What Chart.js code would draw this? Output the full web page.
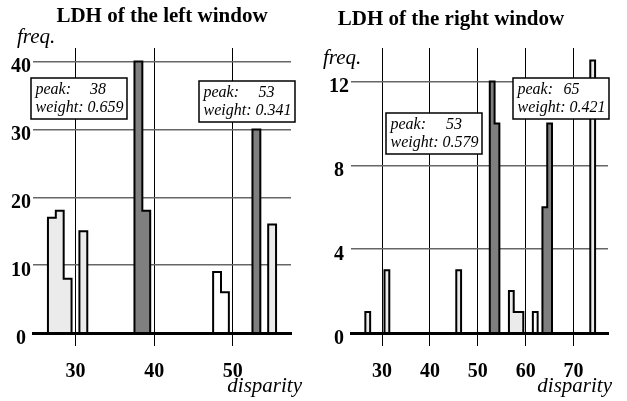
<!DOCTYPE html>
<html>
<head>
<meta charset="utf-8">
<script src="https://cdn.jsdelivr.net/npm/chart.js@4.4.1/dist/chart.umd.min.js"></script>
<style>
  html, body { margin: 0; padding: 0; background: #fff; }
  body { width: 627px; height: 401px; position: relative; overflow: hidden; }
  .panel { position: absolute; top: 0; height: 401px; }
</style>
</head>
<body>
<div class="panel" style="left:0;width:320px"><canvas id="left"></canvas></div>
<div class="panel" style="left:286px;width:330px"><canvas id="right"></canvas></div>
<script>
// histogram bins (disparity) and their frequencies
const leftDisparity = [27, 28, 29, 31, 38, 39, 48, 49, 53, 55];
const leftFreq      = [17, 18,  8, 15, 40, 18,  9,  6, 30, 16];
const leftShade     = ['light', 'light', 'light', 'light', 'dark', 'dark', 'white', 'white', 'dark', 'light'];
const leftXTicks = [30, 40, 50];
const leftYTicks = [0, 10, 20, 30, 40];
const leftPeaks = [38, 53];
const leftWeights = [0.659, 0.341];

const rightDisparity = [27, 31, 46, 53, 54, 57, 58, 59, 62, 64, 65, 74];
const rightFreq      = [ 1,  3,  3, 12, 10,  2,  1,  1,  1,  6, 10, 13];
const rightShade     = ['light', 'light', 'light', 'dark', 'dark', 'light', 'light', 'light', 'white', 'dark', 'dark', 'light'];
const rightXTicks = [30, 40, 50, 60, 70];
const rightYTicks = [0, 4, 8, 12];
const rightPeaks = [53, 65];
const rightWeights = [0.579, 0.421];

const shades = { light: '#ebebeb', dark: '#7f7f7f', white: '#ffffff' };
const SERIF = '"Liberation Serif", "Times New Roman", serif';

// neighbouring bins with the same shade are one stepped outline
function histogramDatasets(xs, ys, shade) {
    const runs = [];
    xs.forEach((x, i) => {
        const last = runs[runs.length - 1];
        if (last && x - last.xs[last.xs.length - 1] === 1 && last.shade === shade[i]) {
            last.xs.push(x);
            last.ys.push(ys[i]);
        } else {
            runs.push({ shade: shade[i], xs: [x], ys: [ys[i]] });
        }
    });
    return runs.map(r => ({
        data: [{ x: r.xs[0] - 0.5, y: 0 }]
            .concat(r.xs.map((x, j) => ({ x: x - 0.5, y: r.ys[j] })))
            .concat([{ x: r.xs[r.xs.length - 1] + 0.5, y: 0 }]),
        stepped: 'before',
        fill: 'origin',
        backgroundColor: shades[r.shade],
        borderColor: '#000',
        borderWidth: 2,
        borderJoinStyle: 'miter',
        pointRadius: 0,
        tension: 0
    }));
}

// axis captions and the peak / weight boxes
const captions = {
    id: 'captions',
    afterDraw(chart, args, o) {
        const ctx = chart.ctx;
        ctx.save();
        ctx.fillStyle = '#000';
        ctx.textBaseline = 'alphabetic';
        ctx.font = 'italic 21px ' + SERIF;
        ctx.textAlign = 'left';
        ctx.fillText('freq.', o.freq[0], o.freq[1]);
        ctx.textAlign = 'right';
        ctx.fillText('disparity', o.disparity[0], o.disparity[1]);

        ctx.font = 'italic 16px ' + SERIF;
        ctx.textAlign = 'left';
        o.boxes.forEach((b, i) => {
            const wText = 'weight: ' + o.weights[i].toFixed(3);
            const w = ctx.measureText(wText).width + 8;
            ctx.fillStyle = '#fff';
            ctx.fillRect(b.x, b.y, w, 41);
            ctx.strokeStyle = '#000';
            ctx.lineWidth = 1.5;
            ctx.strokeRect(b.x, b.y, w, 41);
            ctx.fillStyle = '#000';
            ctx.fillText('peak:', b.x + 4.5, b.y + 16);
            ctx.fillText(String(o.peaks[i]), b.x + b.valueX, b.y + 16);
            ctx.fillText(wText, b.x + 4.5, b.y + 34);
        });
        ctx.restore();
    }
};

function makeChart(id, c) {
    return new Chart(document.getElementById(id), {
        type: 'line',
        data: { datasets: histogramDatasets(c.xs, c.ys, c.shade) },
        options: {
            responsive: true,
            maintainAspectRatio: false,
            animation: false,
            layout: { padding: { left: c.padLeft, right: c.padRight } },
            plugins: {
                legend: { display: false },
                tooltip: { enabled: false },
                title: {
                    display: true,
                    text: c.title,
                    fullSize: c.titleFull,
                    color: '#000',
                    font: { family: SERIF, size: 21, weight: 'bold', lineHeight: 1 },
                    padding: { top: c.titleTop, bottom: 27 - c.titleTop }
                },
                captions: c.captions
            },
            scales: {
                x: {
                    type: 'linear',
                    min: c.xMin,
                    max: c.xMax,
                    afterBuildTicks: axis => { axis.ticks = c.xTicks.map(v => ({ value: v })); },
                    afterFit: s => { s.height = 68; },
                    grid: { color: '#000', lineWidth: 1, tickLength: 13 },
                    border: { display: true, color: '#000', width: 3, z: 1 },
                    ticks: {
                        color: '#000',
                        font: { family: SERIF, size: 20, weight: 'bold' },
                        padding: 14,
                        maxRotation: 0
                    }
                },
                y: {
                    min: 0,
                    max: c.yMax,
                    afterBuildTicks: axis => { axis.ticks = c.yTicks.map(v => ({ value: v })); },
                    afterFit: s => { s.width = c.yWidth; },
                    grid: {
                        color: ctx => ctx.tick && ctx.tick.value === 0 ? '#000' : '#666',
                        lineWidth: 1.5,
                        drawTicks: false
                    },
                    border: { display: false },
                    ticks: {
                        color: '#000',
                        // empty first line pushes the number a little below its grid line
                        font: { family: SERIF, size: 20, weight: 'bold', lineHeight: 0.55 },
                        callback: v => ['', String(v)],
                        padding: 2,
                        crossAlign: 'center'
                    }
                }
            }
        },
        plugins: [captions]
    });
}

makeChart('left', {
    title: 'LDH of the left window',
    titleTop: 6, titleFull: false,
    xs: leftDisparity, ys: leftFreq, shade: leftShade,
    xMin: 24.6, xMax: 57.4, xTicks: leftXTicks,
    yMax: 42, yTicks: leftYTicks,
    yWidth: 33, padLeft: 0, padRight: 29,
    captions: {
        freq: [17, 43], disparity: [302, 392],
        peaks: leftPeaks, weights: leftWeights,
        boxes: [{ x: 31, y: 78, valueX: 59 }, { x: 199, y: 81, valueX: 59.5 }]
    }
});

makeChart('right', {
    title: 'LDH of the right window',
    titleTop: 9.5, titleFull: true,
    xs: rightDisparity, ys: rightFreq, shade: rightShade,
    xMin: 23.5, xMax: 77.2, xTicks: rightXTicks,
    yMax: 13.6, yTicks: rightYTicks,
    yWidth: 57, padLeft: 8, padRight: 8,
    captions: {
        freq: [37, 64], disparity: [326, 392],
        peaks: rightPeaks, weights: rightWeights,
        boxes: [{ x: 100, y: 113, valueX: 60 }, { x: 227, y: 78, valueX: 50.5 }]
    }
});
</script>
</body>
</html>
